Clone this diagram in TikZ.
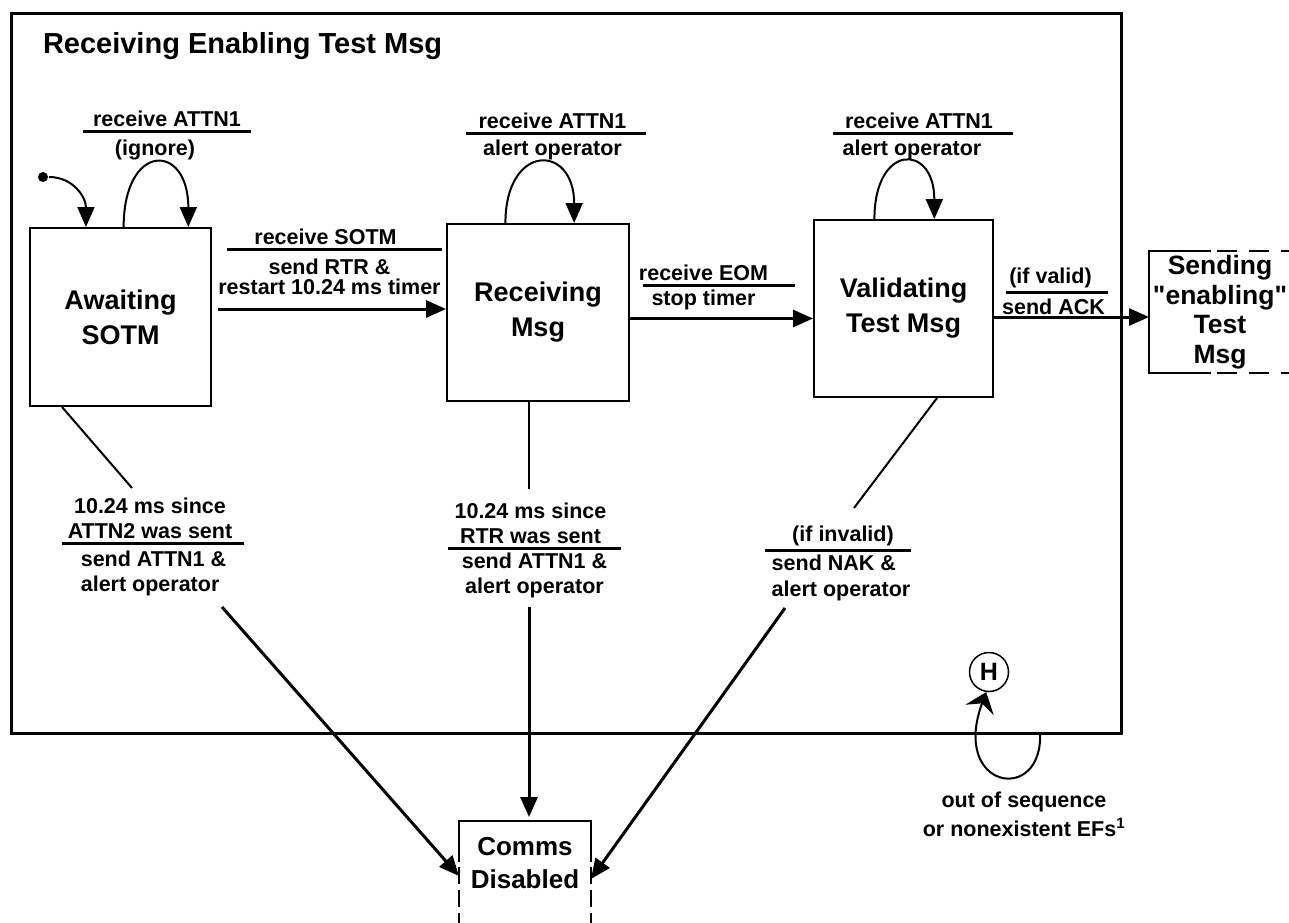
\documentclass[tikz,border=0pt]{standalone}
\usepackage{fontspec}
\setmainfont{Liberation Sans}
\usetikzlibrary{arrows.meta, positioning, shapes}

\newcommand{\labfont}{\fontsize{21.5}{22}\selectfont\bfseries}
\newcommand{\labfontwide}{\fontsize{21.5}{25.5}\selectfont\bfseries}
\newcommand{\statefont}{\fontsize{27}{35}\selectfont\bfseries}

\begin{document}
\begin{tikzpicture}[x=1pt,y=-1pt,>={Triangle[length=20pt,width=17pt]},line width=2pt]

	\tikzset{state box/.style={draw, line width=2pt, align=center, font=\statefont}}
	\tikzset{ev/.style={anchor=south, inner xsep=0pt, inner ysep=3pt, align=center, font=\labfont}}
	\tikzset{act/.style={anchor=north, inner sep=0pt, align=center, font=\labfont}}
	\tikzset{bar/.style={line width=3pt}}
	\tikzset{trans/.style={->, line width=3pt}}
	\tikzset{frag/.style={line width=2.5pt, dash pattern=on 17pt off 6pt}}

	\useasboundingbox (0,0) rectangle (1289,922);

	% superstate
	\node[draw, line width=2.5pt, anchor=north west, minimum width=1110pt, minimum height=720pt, inner sep=0pt] (super) at (10,12) {};
	\node[anchor=base west, inner sep=0pt, font=\fontsize{29}{30}\selectfont\bfseries] (title) at (42,53) {Receiving Enabling Test Msg};

	% states
	\node[state box, minimum width=181pt, minimum height=178pt] (await) at (120.5,317) {Awaiting\\SOTM};
	\node[state box, minimum width=182pt, minimum height=177pt] (recv) at (538,312.5) {Receiving\\Msg};
	\node[state box, minimum width=179pt, minimum height=177pt] (valid) at (903.5,308.5) {Validating\\Test Msg};
	\node[anchor=north west, align=center, inner sep=0pt, minimum width=140pt, minimum height=120pt,
		font=\fontsize{26.5}{29.5}\selectfont\bfseries] (send) at (1149,251) {Sending\\\textquotedbl enabling\textquotedbl\\Test\\Msg};
	\node[anchor=north, align=center, inner sep=0pt, minimum width=130pt, minimum height=82pt,
		font=\fontsize{26}{33}\selectfont\bfseries] (comms) at (525,821) {Comms\\Disabled};
	\node[circle, draw, line width=1.5pt, minimum size=39pt, inner sep=0pt,
		font=\fontsize{25}{25}\selectfont\bfseries] (hist) at (989,672) {H};
	\node[circle, fill, minimum size=10pt, inner sep=0pt] (init) at (43,177) {};

	% partly shown states
	\draw[line width=2.5pt] ([xshift=62pt]send.north west) -- (send.north west) -- (send.south west) -- ([xshift=62pt]send.south west);
	\draw[frag, dash pattern=on 20pt off 12pt] ([xshift=68pt]send.north west) -- ([xshift=40pt]send.north east);
	\draw[frag, dash pattern=on 20pt off 12pt] ([xshift=68pt]send.south west) -- ([xshift=40pt]send.south east);
	\draw[line width=2.5pt] ([yshift=-41pt]comms.north west) -- (comms.north west) -- (comms.north east) -- ([yshift=-41pt]comms.north east);
	\draw[frag] ([yshift=-46pt]comms.north west) -- ([yshift=-130pt]comms.north west);
	\draw[frag] ([yshift=-46pt]comms.north east) -- ([yshift=-130pt]comms.north east);

	% initial and self loops
	\draw[->] (init) .. controls +(30,0) and +(0,-30) .. (await.111);
	\draw[->] (await.88) .. controls +(0,-85) and +(0,-85) .. (await.53);
	\draw[->] (recv.110) .. controls +(0,-80) and +(0,-80) .. (recv.68);
	\draw[->] (valid.108) .. controls +(0,-76) and +(0,-76) .. (valid.71);

	% transitions
	\coordinate (sotm) at ([xshift=6pt,yshift=8pt]await.east);
	\coordinate (eom) at ([yshift=-6pt]recv.east);
	\coordinate (ack) at ([yshift=-8.5pt]valid.east);
	\draw[trans] (sotm) -- (sotm -| recv.west);
	\draw[trans] (eom) -- (eom -| valid.west);
	\draw[trans] (ack) -- (ack -| send.west);

	% labels
	\node[ev] (e1) at (167,131) {receive ATTN1};
	\node[act, below=8pt of e1, xshift=-12pt] (a1) {(ignore)};
	\node[ev] (e2) at (552.5,133) {receive ATTN1};
	\node[act, below=5.5pt of e2] (a2) {alert operator};
	\node[ev] (e3) at (919,133) {receive ATTN1};
	\node[act, below=5.5pt of e3, xshift=-7pt] (a3) {alert operator};
	\node[ev] (e4) at (325.5,249) {receive SOTM};
	\node[act, below=8.5pt of e4, xshift=4pt, font=\fontsize{21.5}{20}\selectfont\bfseries] (a4) {send RTR \&\\restart 10.24 ms timer};
	\node[ev] (e5) at (703.5,285) {receive EOM};
	\node[act, below=3.5pt of e5] (a5) {stop timer};
	\node[ev] (e6) at (1050.5,292) {(if valid)};
	\node[act, below=5.5pt of e6, xshift=3pt] (a6) {send ACK};
	\node[ev, font=\labfontwide] (e7) at (150,543) {10.24 ms since\\ATTN2 was sent};
	\node[act, below=6.5pt of e7, xshift=3.5pt, align=left, font=\labfontwide] (a7) {send ATTN1 \&\\alert operator};
	\node[ev, font=\labfontwide] (e8) at (530.5,548) {10.24 ms since\\RTR was sent};
	\node[act, below=3.5pt of e8, xshift=4pt, font=\labfontwide] (a8) {send ATTN1 \&\\alert operator};
	\node[ev] (e9) at (843,550) {(if invalid)};
	\node[act, below=4pt of e9, xshift=-2pt, align=left, font=\labfontwide] (a9) {send NAK \&\\alert operator};
	\node[act, font=\fontsize{21.5}{29}\selectfont\bfseries] (oos) at (1024,790.5) {out of sequence\\or nonexistent EFs\textsuperscript{1}};

	\draw[bar] ([xshift=-84pt]e1.south) -- ([xshift=84pt]e1.south);
	\draw[bar] ([xshift=-86.5pt]e2.south) -- ([xshift=93.5pt]e2.south);
	\draw[bar] ([xshift=-86pt]e3.south) -- ([xshift=94pt]e3.south);
	\draw[bar] ([xshift=-98.5pt]e4.south) -- ([xshift=116.5pt]e4.south);
	\draw[bar] ([xshift=-60.5pt]e5.south) -- ([xshift=91.5pt]e5.south);
	\draw[bar] ([xshift=-44.5pt]e6.south) -- ([xshift=57.5pt]e6.south);
	\draw[bar] ([xshift=-88pt]e7.south) -- ([xshift=94pt]e7.south);
	\draw[bar] ([xshift=-82.5pt]e8.south) -- ([xshift=90.5pt]e8.south);
	\draw[bar] ([xshift=-78pt]e9.south) -- ([xshift=68pt]e9.south);

	% timeouts and invalid message
	\coordinate (tA) at (132,488);
	\coordinate (tR) at (529,489);
	\coordinate (tV) at (854,508);
	\coordinate (sA) at (222,607);
	\coordinate (sR) at (529,607);
	\coordinate (sV) at (785,608);
	\draw (await.237) -- (tA);
	\draw ([xshift=-9pt]recv.south) -- (tR);
	\draw ([xshift=33.5pt]valid.south) -- (tV);
	\draw[trans] (sA) -- ([yshift=-13pt]comms.west);
	\draw[trans, shorten >=4pt] (sR) -- (sR |- comms.north);
	\draw[trans] (sV) -- ([yshift=-16pt]comms.east);

	% history
	\coordinate (hout) at (1040,732);
	\draw[-{Stealth[length=19pt,width=30pt,inset=7pt]}] (hout) .. controls (1044,805) and (950,790) .. (hist.262);

\end{tikzpicture}
\end{document}
